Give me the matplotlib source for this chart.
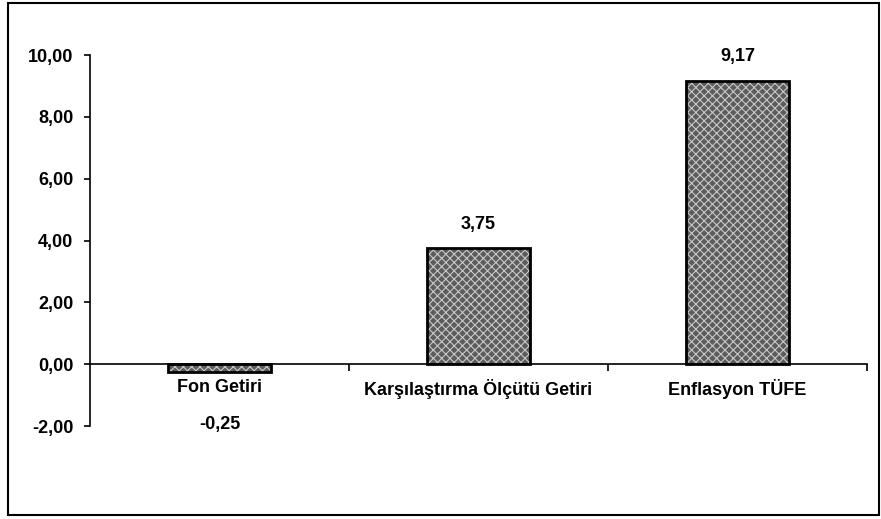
import matplotlib
matplotlib.use("Agg")
import matplotlib.pyplot as plt
from matplotlib.patches import Rectangle

categories = ["Fon Getiri", "Karşılaştırma Ölçütü Getiri", "Enflasyon TÜFE"]
values = [-0.25, 3.75, 9.17]
value_labels = ["-0,25", "3,75", "9,17"]
yticks = [-2, 0, 2, 4, 6, 8, 10]
ytick_labels = ["-2,00", "0,00", "2,00", "4,00", "6,00", "8,00", "10,00"]

plt.rcParams['font.family'] = ['Liberation Sans', 'DejaVu Sans']
plt.rcParams['hatch.linewidth'] = 0.8

fig = plt.figure(figsize=(8.81, 5.19), dpi=100)
fig.patches.append(Rectangle((8/881, 4/519), 871/881, 512/519, transform=fig.transFigure,
                             fill=False, edgecolor='black', linewidth=1.5))

ax = fig.add_axes([90/881, 1-426/519, (867-90)/881, (426-55)/519])
x = list(range(len(categories)))
ax.bar(x, values, width=0.4, color='#5c5c5c', edgecolor='#c8c8c8', hatch='xxxx', linewidth=0)
ax.bar(x, values, width=0.4, fill=False, edgecolor='black', linewidth=2)

fs = 13
ax.set_xlim(-0.5, 2.5)
ax.set_ylim(-2, 10)
ax.set_yticks(yticks)
ax.set_yticklabels(ytick_labels, fontsize=fs, fontweight='bold')
ax.tick_params(axis='y', length=4, width=1.2, direction='out', pad=8)

ax.spines['top'].set_visible(False)
ax.spines['right'].set_visible(False)
ax.spines['left'].set_linewidth(1.2)
ax.spines['bottom'].set_position(('data', 0))
ax.spines['bottom'].set_linewidth(1.2)

ax.set_xticks([0.5, 1.5, 2.5], minor=True)
ax.tick_params(axis='x', which='minor', length=5, width=1.2, direction='out')
ax.set_xticks(x)
ax.set_xticklabels(categories, fontsize=fs, fontweight='bold')
ax.tick_params(axis='x', which='major', length=0, pad=11)

for xi, v, lab in zip(x, values, value_labels):
    off = 24 if v >= 0 else -53
    ax.annotate(lab, (xi, v), xytext=(0, off), textcoords='offset pixels',
                ha='center', va='center', fontsize=fs, fontweight='bold')

fig.savefig("out.png", dpi=100)
